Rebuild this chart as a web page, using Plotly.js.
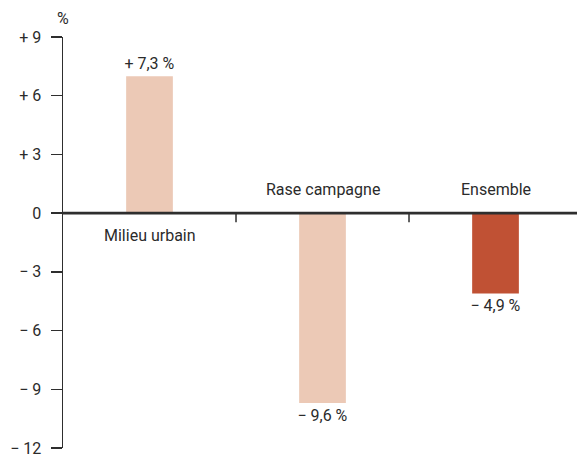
<!DOCTYPE html>
<html>
<head>
<meta charset="utf-8">
<script src="https://cdn.plot.ly/plotly-3.0.1.min.js"></script>
<style>html,body{margin:0;padding:0;background:#fff;}#chart{width:577px;height:455px;}</style>
</head>
<body>
<div id="chart"></div>
<script>
// Data
const categories = ["Milieu urbain", "Rase campagne", "Ensemble"];
const barValues = [7.0, -9.7, -4.1];            // drawn bar lengths (%)
const valueLabels = ["+ 7,3 %", "− 9,6 %", "− 4,9 %"];
const barColors = ["#ECC9B6", "#ECC9B6", "#C05134"];
const yTickVals = [9, 6, 3, 0, -3, -6, -9, -12];
const yTickText = ["+ 9", "+ 6", "+ 3", "0", "− 3", "− 6", "− 9", "− 12"];
const unitLabel = "%";

const FONT = 'Roboto, "Liberation Sans", sans-serif';
const TXT = "#2b2b2b";
const xIdx = categories.map((c, i) => i);

const trace = {
  type: "bar",
  x: xIdx,
  y: barValues,
  width: 0.27,
  marker: {color: barColors, line: {width: 0}},
  text: valueLabels,
  textposition: "outside",
  constraintext: "none",
  textfont: {family: FONT, size: 16, color: TXT},
  cliponaxis: false,
  hoverinfo: "skip"
};

const annotations = categories.map((c, i) => ({
  x: i, y: 0, xref: "x", yref: "y",
  text: c, showarrow: false,
  yanchor: barValues[i] >= 0 ? "top" : "bottom",
  yshift: barValues[i] >= 0 ? -11 : 12,
  font: {family: FONT, size: 16, color: TXT}
}));
annotations.push({
  x: 0, y: 1, xref: "paper", yref: "paper",
  text: unitLabel, showarrow: false,
  xanchor: "center", yanchor: "bottom", yshift: 7,
  font: {family: FONT, size: 16, color: TXT}
});

const shapes = [
  {type: "line", xref: "paper", yref: "y", x0: 0, x1: 1, y0: 0, y1: 0,
   line: {color: "#2e2e2e", width: 2.6}, layer: "above"}
];
[0.5, 1.5].forEach(b => shapes.push({
  type: "line", xref: "x", yref: "y", x0: b, x1: b, y0: 0, y1: -0.46,
  line: {color: "#2e2e2e", width: 1.5}
}));

const layout = {
  width: 577, height: 455,
  margin: {l: 63, r: 0, t: 37, b: 7, pad: 0},
  paper_bgcolor: "#fff", plot_bgcolor: "#fff",
  showlegend: false,
  font: {family: FONT, size: 16, color: TXT},
  xaxis: {range: [-0.5, 2.471], showticklabels: false, showgrid: false,
          zeroline: false, showline: false, ticks: "", fixedrange: true},
  yaxis: {range: [-12.0001, 9.0001], tickvals: yTickVals, ticktext: yTickText,
          showgrid: false, zeroline: false, showline: true, automargin: false,
          ticklabeloverflow: "allow",
          linecolor: "#2e2e2e", linewidth: 1.5, ticklabelstandoff: 6,
          ticks: "outside", ticklen: 11, tickwidth: 1.5, tickcolor: "#2e2e2e",
          tickfont: {family: FONT, size: 16, color: TXT}, fixedrange: true},
  annotations: annotations,
  shapes: shapes
};

Plotly.newPlot("chart", [trace], layout, {displayModeBar: false, staticPlot: true});
</script>
</body>
</html>
